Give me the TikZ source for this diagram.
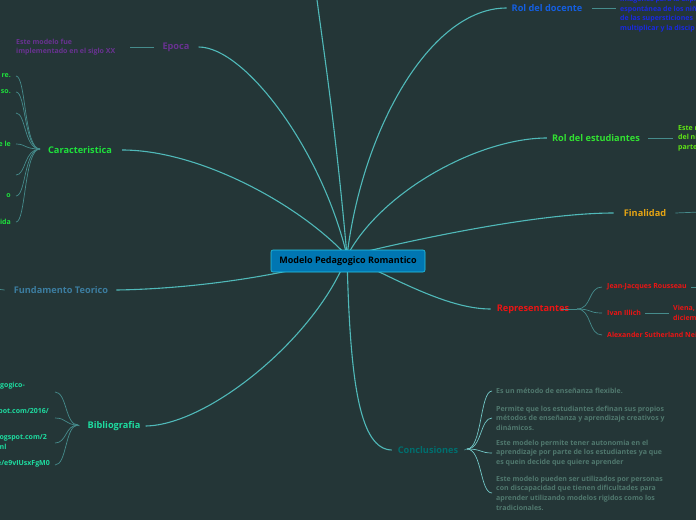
\documentclass[tikz,border=0pt]{standalone}
\usepackage{fontspec}
\setmainfont{Open Sans}
\definecolor{fondo}{RGB}{36,54,55}
\definecolor{ramacol}{RGB}{80,185,185}
\definecolor{subcol}{RGB}{70,140,140}
\definecolor{centrofill}{RGB}{0,118,178}
\definecolor{centroborde}{RGB}{40,200,230}
\definecolor{cepoca}{RGB}{105,50,145}
\definecolor{ccarac}{RGB}{30,225,60}
\definecolor{cfund}{RGB}{60,125,160}
\definecolor{cbiblio}{RGB}{30,220,160}
\definecolor{cconcl}{RGB}{0,110,110}
\definecolor{cconhoja}{RGB}{80,120,110}
\definecolor{crepr}{RGB}{235,20,20}
\definecolor{cfinal}{RGB}{230,165,20}
\definecolor{crolest}{RGB}{50,225,50}
\definecolor{crolesthoja}{RGB}{95,230,20}
\definecolor{croldoc}{RGB}{20,95,225}
\definecolor{croldochoja}{RGB}{25,40,225}
\tikzset{
  tema/.style={font=\bfseries\fontsize{9.2}{11}\selectfont, inner sep=0pt},
  hoja/.style={font=\bfseries\fontsize{7}{9.6}\selectfont, align=left, inner sep=0pt},
  rama/.style={draw=ramacol, line width=1.1pt},
  subrama/.style={draw=subcol, line width=0.7pt},
}
\begin{document}
\begin{tikzpicture}[x=1pt,y=-1pt]
  \fill[fondo] (0,0) rectangle (696,520);
  \useasboundingbox (0,0) rectangle (696,520);

  % centro
  \coordinate (raiz) at (347,256);
  \coordinate (arriba) at (316,-8);

  % temas
  \node[tema, text=cepoca] (epoca) at (176,47) {Epoca};
  \node[tema, text=ccarac] (carac) at (80,150) {Caracteristica};
  \node[tema, text=cfund] (fund) at (61,290) {Fundamento Teorico};
  \node[tema, text=cbiblio] (biblio) at (114,426) {Bibliografia};
  \node[tema, text=cconcl] (concl) at (428,450) {Conclusiones};
  \node[tema, text=crepr] (repr) at (533,309) {Representantes};
  \node[tema, text=cfinal] (final) at (645,213) {Finalidad};
  \node[tema, text=crolest] (rolest) at (596,138) {Rol del estudiantes};
  \node[tema, text=croldoc] (roldoc) at (547,8) {Rol del docente};

  % ramas principales
  \draw[rama] (raiz) .. controls (335,120) and (322,40) .. (arriba);
  \draw[rama] (raiz) .. controls (322,150) and (245,47) .. ([xshift=9pt]epoca.east);
  \draw[rama] (raiz) .. controls (300,205) and (200,150) .. ([xshift=10pt]carac.east);
  \draw[rama] (raiz) .. controls (275,278) and (185,289) .. ([xshift=8pt]fund.east);
  \draw[rama] (raiz) .. controls (318,335) and (210,425) .. ([xshift=5pt]biblio.east);
  \draw[rama] (raiz) .. controls (350,385) and (360,449) .. ([xshift=-6pt]concl.west);
  \draw[rama] (raiz) .. controls (400,282) and (450,309) .. ([xshift=-6pt]repr.west);
  \draw[rama] (raiz) .. controls (420,238) and (540,213) .. ([xshift=-10pt]final.west);
  \draw[rama] (raiz) .. controls (382,190) and (480,138) .. ([xshift=-5pt]rolest.west);
  \draw[rama] (raiz) .. controls (362,130) and (430,8) .. ([xshift=-5pt]roldoc.west);

  \node[draw=centroborde, fill=centrofill, rounded corners=2pt, line width=0.6pt,
        minimum width=154pt, minimum height=22pt,
        font=\bfseries\fontsize{9}{11}\selectfont, text=black] (centro) at (348,261)
        {Modelo Pedagogico Romantico};

  % Epoca
  \node[hoja, text=cepoca, anchor=west] (epocah) at (16,47) {Este modelo fue\\implementado en el siglo XX};
  \draw[subrama] ([xshift=-8pt]epoca.west) -- (130,47);

  % Caracteristica
  \coordinate (cf) at (40,149);
  \foreach \yy/\txt in {76/re., 92/so., 113/, 144/e le, 175/, 196/o, 222/ida}{
    \node[hoja, text=ccarac, anchor=east] (c\yy) at (11,\yy) {\txt};
    \draw[subrama] (cf) .. controls (24,149) and (26,\yy) .. (16,\yy);
  }
  \draw[subrama] (cf) -- ([xshift=-9pt]carac.west);

  % Fundamento Teorico
  \coordinate (ff) at (-4,289);
  \draw[subrama] ([xshift=-9pt]fund.west) -- (ff);

  % Bibliografia
  \coordinate (bf) at (78,425);
  \draw[subrama] (bf) -- ([xshift=-8pt]biblio.west);
  \node[hoja, text=cbiblio, anchor=north east] (b1) at (25,382) {gogico-};
  \node[hoja, text=cbiblio, anchor=north east] (b2) at (49,408) {spot.com/2016/\\l\hfill\mbox{}};
  \node[hoja, text=cbiblio, anchor=north east] (b3) at (47,434) {logspot.com/2\\ml\hfill\mbox{}};
  \node[hoja, text=cbiblio, anchor=north east] (b4) at (50,460) {e/e9vIUsxFgM0};
  \foreach \yy in {392,418,443,465}{
    \draw[subrama] (bf) .. controls (65,425) and (67,\yy) .. (55,\yy);
  }

  % Conclusiones
  \coordinate (kf) at (467,449);
  \draw[subrama] ([xshift=6pt]concl.east) -- (kf);
  \node[hoja, text=cconhoja, anchor=west] (k1) at (496,391) {Es un método de enseñanza flexible.};
  \node[hoja, text=cconhoja, anchor=west] (k2) at (496,418) {Permite que los estudiantes definan sus propios\\métodos de enseñanza y aprendizaje creativos y\\dinámicos.};
  \node[hoja, text=cconhoja, anchor=west] (k3) at (496,453) {Este modelo permite tener autonomia en el\\aprendizaje por parte de los estudiantes ya que\\es quein decide que quiere aprender};
  \node[hoja, text=cconhoja, anchor=west] (k4) at (496,493) {Este modelo pueden ser utilizados por personas\\con discapacidad que tienen dificultades para\\aprender utilizando modelos rigidos como los\\tradicionales.};
  \foreach \k in {k1,k2,k3,k4}{
    \draw[subrama, draw=ramacol!80!white] (kf) .. controls (482,449) and (480,0 |- \k.west) .. ([xshift=-4pt]\k.west);
  }

  % Representantes
  \coordinate (rf) at (577,309);
  \draw[subrama] ([xshift=-8pt]repr.east) -- (rf);
  \node[hoja, text=crepr, anchor=west] (r1) at (607,287) {Jean-Jacques Rousseau};
  \node[hoja, text=crepr, anchor=west] (r2) at (607,313) {Ivan Illich};
  \node[hoja, text=crepr, anchor=west] (r3) at (607,335) {Alexander Sutherland Neill};
  \foreach \r in {r1,r2,r3}{
    \draw[subrama] (rf) .. controls (592,309) and (588,0 |- \r.west) .. ([xshift=-5pt]\r.west);
  }
  \coordinate (r1f) at (700,287);
  \draw[subrama] ([xshift=4pt]r1.east) -- (r1f);
  \node[hoja, text=crepr, anchor=west] (r2h) at (673,313) {Viena,\\diciem};
  \draw[subrama] ([xshift=4pt]r2.east) -- ([xshift=-4pt]r2h.west);

  % Finalidad
  \coordinate (fif) at (700,212);
  \draw[subrama] ([xshift=9pt]final.east) -- (fif);

  % Rol del estudiantes
  \node[hoja, text=crolesthoja, anchor=west] (rolesth) at (678,138) {Este m\\del ni\\parte};
  \draw[subrama] ([xshift=8pt]rolest.east) -- ([xshift=-5pt]rolesth.west);

  % Rol del docente
  \node[hoja, text=croldochoja, anchor=west] (roldoch) at (620,14) {imágenes para la expresi\\espontánea de los niñ\\de las supersticiones\\multiplicar y la discip};
  \draw[subrama] ([xshift=10pt]roldoc.east) -- ([xshift=-4pt]roldoch.west |- roldoc.east);
\end{tikzpicture}
\end{document}
